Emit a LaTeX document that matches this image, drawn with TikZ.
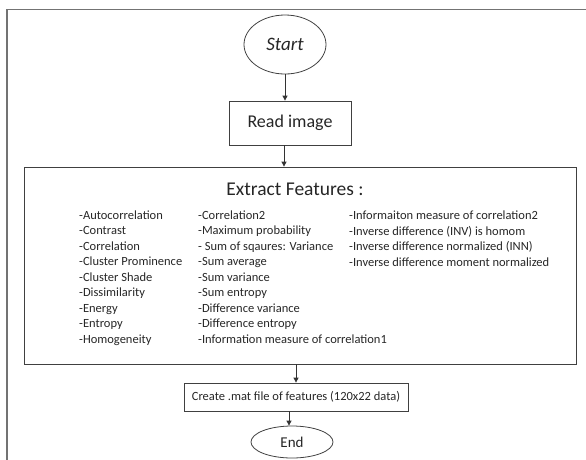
\documentclass[tikz,border=0pt]{standalone}
\usepackage{fontspec}
\setmainfont{Carlito}
\usepackage{tikz}
\usetikzlibrary{arrows.meta,shapes.geometric}
\tikzset{blk/.style={draw=black!75,line width=0.8pt,inner sep=0pt,text=black!85},
         oval/.style={blk,ellipse},
         ar/.style={draw=black!80,line width=0.8pt,-{Stealth[length=5pt,width=5pt,inset=0pt]}},
         lst/.style={anchor=base west,align=left,inner sep=0pt,text=black!85,font=\fontsize{12.5}{15.5}\selectfont},
         frm/.style={draw=black!55,line width=1.6pt}}

\begin{document}
\begin{tikzpicture}[x=1pt,y=-1pt]
\useasboundingbox (0,0) rectangle (586,459);
\clip (0,0) rectangle (586,459);
\draw[frm] (7,9.5) rectangle (620,490);
\node[oval,minimum width=82pt,minimum height=59pt,font=\fontsize{19}{22}\selectfont\itshape] (start) at (285,44.5) {Start};
\node[blk,minimum width=122pt,minimum height=44pt,font=\fontsize{18}{22}\selectfont] (read) at (290,123) {Read image};
\node[blk,minimum width=552pt,minimum height=197pt] (feat) at (300,265.5) {};
\node[inner sep=0pt,anchor=base,text=black!85,font=\fontsize{19.5}{23}\selectfont] (title) at (295,195) {Extract Features :};
% lists: base anchor sits on the last line
\node[lst] (colA) at (79,343) {-Autocorrelation\\-Contrast\\-Correlation\\-Cluster Prominence\\-Cluster Shade\\-Dissimilarity\\-Energy\\-Entropy\\-Homogeneity};
\node[lst] (colB) at (198,343) {-Correlation2\\-Maximum probability\\- Sum of sqaures: Variance\\-Sum average\\-Sum variance\\-Sum entropy\\-Difference variance\\-Difference entropy\\-Information measure of correlation1};
\node[lst] (colC) at (349,266) {-Informaiton measure of correlation2\\-Inverse difference (INV) is homom\\-Inverse difference normalized (INN)\\-Inverse difference moment normalized};
\node[blk,minimum width=224pt,minimum height=28pt,font=\fontsize{12.5}{15}\selectfont] (mat) at (296,397) {Create .mat file of features (120x22 data)};
\node[oval,minimum width=82pt,minimum height=32pt,font=\fontsize{15}{18}\selectfont] (stop) at (292,442) {End};
\draw[ar] (start.south) -- (start.south |- read.north);
\draw[ar] ([xshift=-6pt]read.south) -- ([xshift=-6pt]read.south |- feat.north);
\draw[ar] (mat.north |- feat.south) -- (mat.north);
\draw[ar] ([xshift=-3pt]stop.north |- mat.south) -- ([xshift=-3pt]stop.north);
\end{tikzpicture}
\end{document}
